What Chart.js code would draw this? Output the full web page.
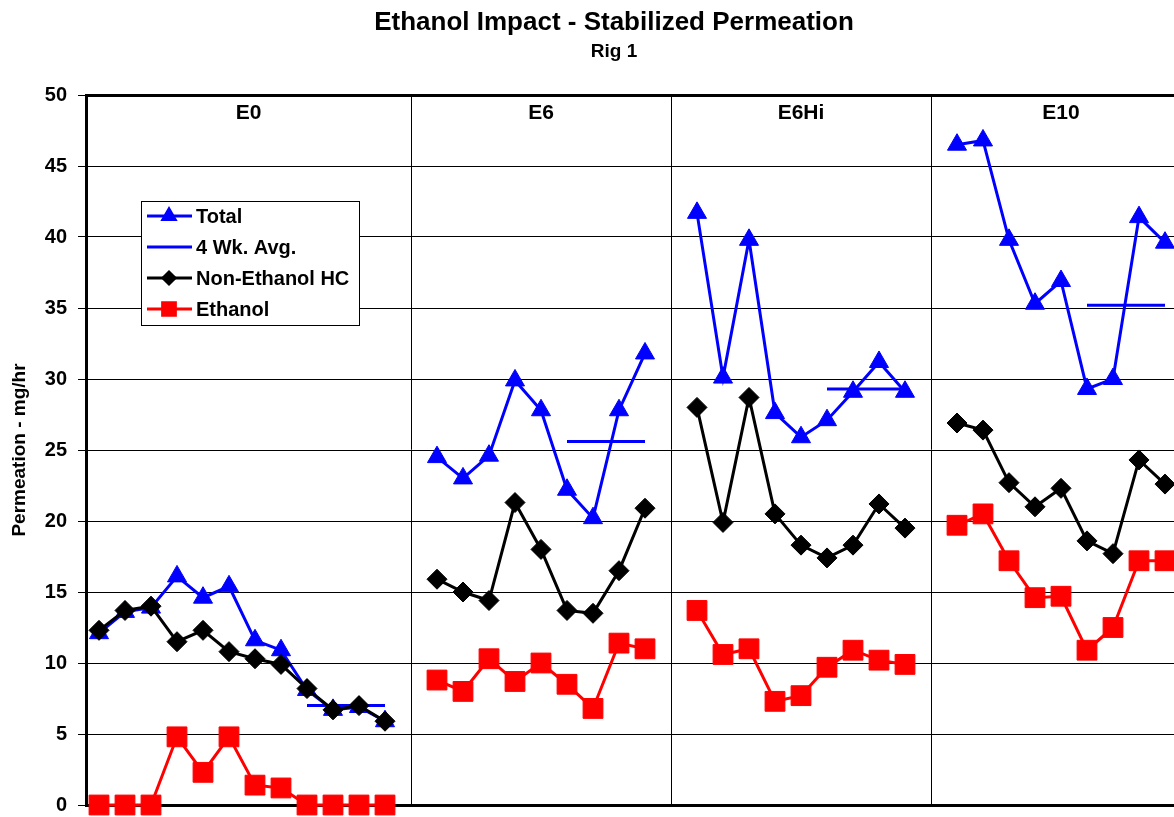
<!DOCTYPE html>
<html>
<head>
<meta charset="utf-8">
<script src="https://cdn.jsdelivr.net/npm/chart.js@4.4.0/dist/chart.umd.min.js"></script>
<style>
  html, body { margin: 0; padding: 0; background: #fff; overflow: hidden; }
</style>
</head>
<body>
<canvas id="perm" width="1228" height="828"></canvas>
<script>
// week slots per fuel block, '' marks the gap between blocks
var weeks = [
  '1', '2', '3', '4', '5', '6', '7', '8', '9', '10', '11', '12', '',
  '1', '2', '3', '4', '5', '6', '7', '8', '9', '',
  '1', '2', '3', '4', '5', '6', '7', '8', '9', '',
  '1', '2', '3', '4', '5', '6', '7', '8', '9', ''
];
var fuels = ['E0', 'E6', 'E6Hi', 'E10'];

var total = [
  12.1, 13.6, 13.9, 16.1, 14.6, 15.4, 11.6, 10.9, 8.1, 6.7, 6.9, 5.9, null,
  24.5, 23.0, 24.6, 29.9, 27.8, 22.2, 20.2, 27.8, 31.8, null,
  41.7, 30.1, 39.8, 27.6, 25.9, 27.1, 29.1, 31.2, 29.1, null,
  46.5, 46.8, 39.8, 35.3, 36.9, 29.3, 30.0, 41.4, 39.6, null
];
var avg4wk = [
  null, null, null, null, null, null, null, null, 7.0, 7.0, 7.0, 7.0, null,
  null, null, null, null, null, 25.6, 25.6, 25.6, 25.6, null,
  null, null, null, null, null, 29.3, 29.3, 29.3, 29.3, null,
  null, null, null, null, null, 35.2, 35.2, 35.2, 35.2, null
];
var nonEthanol = [
  12.3, 13.7, 14.0, 11.5, 12.3, 10.8, 10.3, 9.9, 8.2, 6.7, 7.0, 5.9, null,
  15.9, 15.0, 14.4, 21.3, 18.0, 13.7, 13.5, 16.5, 20.9, null,
  28.0, 19.9, 28.7, 20.5, 18.3, 17.4, 18.3, 21.2, 19.5, null,
  26.9, 26.4, 22.7, 21.0, 22.3, 18.6, 17.7, 24.3, 22.6, null
];
var ethanol = [
  0, 0, 0, 4.8, 2.3, 4.8, 1.4, 1.2, 0, 0, 0, 0, null,
  8.8, 8.0, 10.3, 8.7, 10.0, 8.5, 6.8, 11.4, 11.0, null,
  13.7, 10.6, 11.0, 7.3, 7.7, 9.7, 10.9, 10.2, 9.9, null,
  19.7, 20.5, 17.2, 14.6, 14.7, 10.9, 12.5, 17.2, 17.2, null
];

var FONT = '"Liberation Sans", Arial, sans-serif';
var BLUE = '#0000ff', RED = '#ff0000', BLACK = '#000000';

// gap slots (separator lines) come from the empty week labels
var gaps = [];
weeks.forEach(function(w, i) { if (w === '') gaps.push(i); });

// main title + subtitle, centred on the full (uncropped) chart width
var chartTitles = {
  id: 'chartTitles',
  afterDraw: function(chart) {
    var ctx = chart.ctx, cx = chart.width / 2;
    ctx.save();
    ctx.fillStyle = BLACK;
    ctx.textAlign = 'center';
    ctx.textBaseline = 'middle';
    ctx.font = 'bold 26px ' + FONT;
    ctx.fillText('Ethanol Impact - Stabilized Permeation', cx, 23);
    ctx.font = 'bold 19px ' + FONT;
    ctx.fillText('Rig 1', cx, 52);
    ctx.restore();
  }
};

var fuelLabels = {
  id: 'fuelLabels',
  afterDatasetsDraw: function(chart) {
    var ctx = chart.ctx, x = chart.scales.x, area = chart.chartArea;
    var start = -0.5;
    ctx.save();
    ctx.font = 'bold 21px ' + FONT;
    ctx.fillStyle = BLACK;
    ctx.textAlign = 'center';
    ctx.textBaseline = 'middle';
    fuels.forEach(function(f, k) {
      var end = gaps[k];
      var px = (x.getPixelForValue(start) + x.getPixelForValue(end)) / 2;
      ctx.fillText(f, px, area.top + 18);
      start = end;
    });
    ctx.restore();
  }
};

var boxLegend = {
  id: 'boxLegend',
  afterDraw: function(chart) {
    var ctx = chart.ctx, area = chart.chartArea;
    var bx = area.left + 55, by = area.top + 106, bw = 218, bh = 124;
    ctx.save();
    ctx.fillStyle = '#fff';
    ctx.fillRect(bx, by, bw, bh);
    ctx.strokeStyle = BLACK;
    ctx.lineWidth = 1;
    ctx.strokeRect(bx + 0.5, by + 0.5, bw, bh);
    var items = [
      {text: 'Total', color: BLUE, style: 'triangle', r: 7},
      {text: '4 Wk. Avg.', color: BLUE, style: false, r: 0},
      {text: 'Non-Ethanol HC', color: BLACK, style: 'rectRot', r: 6},
      {text: 'Ethanol', color: RED, style: 'rect', r: 9}
    ];
    ctx.font = 'bold 20px ' + FONT;
    ctx.textBaseline = 'middle';
    items.forEach(function(it, k) {
      var y = by + 15 + k * 31;
      ctx.strokeStyle = it.color;
      ctx.lineWidth = 3;
      ctx.beginPath();
      ctx.moveTo(bx + 6, y);
      ctx.lineTo(bx + 51, y);
      ctx.stroke();
      if (it.style) {
        ctx.fillStyle = it.color;
        Chart.helpers.drawPoint(ctx, {pointStyle: it.style, radius: it.r, borderWidth: 1, rotation: 0}, bx + 28, y);
        ctx.fill();
      }
      ctx.fillStyle = BLACK;
      ctx.fillText(it.text, bx + 55, y + 1);
    });
    ctx.restore();
  }
};

var config = {
  type: 'line',
  data: {
    labels: weeks,
    datasets: [{
      label: 'Non-Ethanol HC',
      data: nonEthanol,
      borderColor: BLACK,
      backgroundColor: BLACK,
      borderWidth: 3,
      pointStyle: 'rectRot',
      pointRadius: 10,
      pointBorderWidth: 1,
      clip: false
    }, {
      label: 'Total',
      data: total,
      borderColor: BLUE,
      backgroundColor: BLUE,
      borderWidth: 3,
      pointStyle: 'triangle',
      pointRadius: 11,
      pointBorderWidth: 1,
      clip: false
    }, {
      label: '4 Wk. Avg.',
      data: avg4wk,
      borderColor: BLUE,
      backgroundColor: BLUE,
      borderWidth: 3,
      pointRadius: 0,
      clip: false
    }, {
      label: 'Ethanol',
      data: ethanol,
      borderColor: RED,
      backgroundColor: RED,
      borderWidth: 3,
      pointStyle: 'rect',
      pointRadius: 14,
      pointBorderWidth: 1,
      clip: false
    }]
  },
  options: {
    responsive: false,
    animation: false,
    spanGaps: false,
    layout: {padding: {left: 4, right: 24, top: 95, bottom: 8}},
    plugins: {
      legend: {display: false},
      tooltip: {enabled: false}
    },
    scales: {
      x: {
        type: 'category',
        offset: true,
        grid: {
          offset: false,
          drawTicks: false,
          lineWidth: 1,
          color: function(c) { return gaps.indexOf(c.index) >= 0 ? BLACK : 'rgba(0,0,0,0)'; }
        },
        ticks: {display: false, autoSkip: false},
        border: {color: BLACK, width: 3}
      },
      y: {
        min: 0,
        max: 50,
        afterFit: function(s) { s.width = 82; },
        ticks: {
          stepSize: 5,
          color: BLACK,
          padding: 11,
          font: {family: FONT, size: 20, weight: 'bold'}
        },
        grid: {
          color: BLACK,
          lineWidth: function(c) { return c.tick && c.tick.value === 50 ? 3 : 1; },
          tickLength: 8,
          tickWidth: 1,
          tickColor: BLACK
        },
        border: {color: BLACK, width: 3},
        title: {
          display: true,
          text: 'Permeation - mg/hr',
          color: BLACK,
          font: {family: FONT, size: 19, weight: 'bold'}
        }
      }
    }
  },
  plugins: [chartTitles, fuelLabels, boxLegend]
};

window.onload = function() {
  var ctx = document.getElementById('perm').getContext('2d');
  window.permChart = new Chart(ctx, config);
};
</script>
</body>
</html>
